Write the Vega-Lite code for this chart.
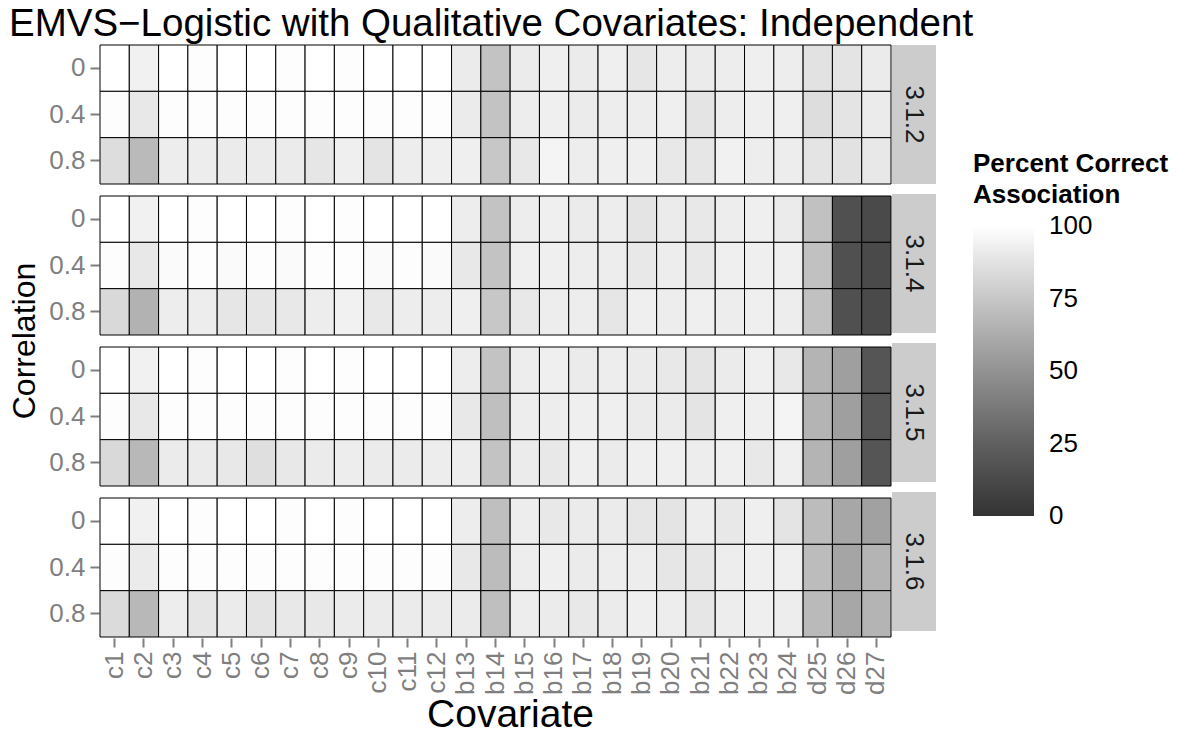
{
"$schema": "https://vega.github.io/schema/vega-lite/v6.json",
"background": "white",
"padding": {"left": 8, "top": 5, "right": 5, "bottom": 5},
"title": {"text": "EMVS−Logistic with Qualitative Covariates: Independent", "anchor": "start", "fontSize": 38.5, "font": "Liberation Sans", "fontWeight": "normal", "color": "black", "offset": 0},
"config": {"font": "Liberation Sans", "view": {"stroke": null}},
"data": {"values": [
{"p":"3.1.2","r":"0","c":"c1","v":100},{"p":"3.1.2","r":"0","c":"c2","v":94},{"p":"3.1.2","r":"0","c":"c3","v":100},{"p":"3.1.2","r":"0","c":"c4","v":99},{"p":"3.1.2","r":"0","c":"c5","v":100},{"p":"3.1.2","r":"0","c":"c6","v":100},{"p":"3.1.2","r":"0","c":"c7","v":99},{"p":"3.1.2","r":"0","c":"c8","v":100},{"p":"3.1.2","r":"0","c":"c9","v":99},{"p":"3.1.2","r":"0","c":"c10","v":100},{"p":"3.1.2","r":"0","c":"c11","v":100},{"p":"3.1.2","r":"0","c":"c12","v":100},{"p":"3.1.2","r":"0","c":"b13","v":91},{"p":"3.1.2","r":"0","c":"b14","v":73},{"p":"3.1.2","r":"0","c":"b15","v":91},{"p":"3.1.2","r":"0","c":"b16","v":93},{"p":"3.1.2","r":"0","c":"b17","v":91},{"p":"3.1.2","r":"0","c":"b18","v":93},{"p":"3.1.2","r":"0","c":"b19","v":89},{"p":"3.1.2","r":"0","c":"b20","v":92},{"p":"3.1.2","r":"0","c":"b21","v":91},{"p":"3.1.2","r":"0","c":"b22","v":92},{"p":"3.1.2","r":"0","c":"b23","v":93},{"p":"3.1.2","r":"0","c":"b24","v":92},{"p":"3.1.2","r":"0","c":"d25","v":87},{"p":"3.1.2","r":"0","c":"d26","v":88},{"p":"3.1.2","r":"0","c":"d27","v":91},
{"p":"3.1.2","r":"0.4","c":"c1","v":99},{"p":"3.1.2","r":"0.4","c":"c2","v":90},{"p":"3.1.2","r":"0.4","c":"c3","v":99},{"p":"3.1.2","r":"0.4","c":"c4","v":99},{"p":"3.1.2","r":"0.4","c":"c5","v":99},{"p":"3.1.2","r":"0.4","c":"c6","v":99},{"p":"3.1.2","r":"0.4","c":"c7","v":99},{"p":"3.1.2","r":"0.4","c":"c8","v":99},{"p":"3.1.2","r":"0.4","c":"c9","v":99},{"p":"3.1.2","r":"0.4","c":"c10","v":99},{"p":"3.1.2","r":"0.4","c":"c11","v":99},{"p":"3.1.2","r":"0.4","c":"c12","v":99},{"p":"3.1.2","r":"0.4","c":"b13","v":91},{"p":"3.1.2","r":"0.4","c":"b14","v":73},{"p":"3.1.2","r":"0.4","c":"b15","v":92},{"p":"3.1.2","r":"0.4","c":"b16","v":93},{"p":"3.1.2","r":"0.4","c":"b17","v":91},{"p":"3.1.2","r":"0.4","c":"b18","v":92},{"p":"3.1.2","r":"0.4","c":"b19","v":92},{"p":"3.1.2","r":"0.4","c":"b20","v":93},{"p":"3.1.2","r":"0.4","c":"b21","v":88},{"p":"3.1.2","r":"0.4","c":"b22","v":92},{"p":"3.1.2","r":"0.4","c":"b23","v":93},{"p":"3.1.2","r":"0.4","c":"b24","v":93},{"p":"3.1.2","r":"0.4","c":"d25","v":85},{"p":"3.1.2","r":"0.4","c":"d26","v":88},{"p":"3.1.2","r":"0.4","c":"d27","v":91},
{"p":"3.1.2","r":"0.8","c":"c1","v":85},{"p":"3.1.2","r":"0.8","c":"c2","v":69},{"p":"3.1.2","r":"0.8","c":"c3","v":92},{"p":"3.1.2","r":"0.8","c":"c4","v":92},{"p":"3.1.2","r":"0.8","c":"c5","v":91},{"p":"3.1.2","r":"0.8","c":"c6","v":91},{"p":"3.1.2","r":"0.8","c":"c7","v":91},{"p":"3.1.2","r":"0.8","c":"c8","v":89},{"p":"3.1.2","r":"0.8","c":"c9","v":93},{"p":"3.1.2","r":"0.8","c":"c10","v":88},{"p":"3.1.2","r":"0.8","c":"c11","v":92},{"p":"3.1.2","r":"0.8","c":"c12","v":93},{"p":"3.1.2","r":"0.8","c":"b13","v":93},{"p":"3.1.2","r":"0.8","c":"b14","v":75},{"p":"3.1.2","r":"0.8","c":"b15","v":90},{"p":"3.1.2","r":"0.8","c":"b16","v":95},{"p":"3.1.2","r":"0.8","c":"b17","v":92},{"p":"3.1.2","r":"0.8","c":"b18","v":93},{"p":"3.1.2","r":"0.8","c":"b19","v":93},{"p":"3.1.2","r":"0.8","c":"b20","v":90},{"p":"3.1.2","r":"0.8","c":"b21","v":89},{"p":"3.1.2","r":"0.8","c":"b22","v":94},{"p":"3.1.2","r":"0.8","c":"b23","v":92},{"p":"3.1.2","r":"0.8","c":"b24","v":92},{"p":"3.1.2","r":"0.8","c":"d25","v":88},{"p":"3.1.2","r":"0.8","c":"d26","v":87},{"p":"3.1.2","r":"0.8","c":"d27","v":90},
{"p":"3.1.4","r":"0","c":"c1","v":100},{"p":"3.1.4","r":"0","c":"c2","v":94},{"p":"3.1.4","r":"0","c":"c3","v":100},{"p":"3.1.4","r":"0","c":"c4","v":99},{"p":"3.1.4","r":"0","c":"c5","v":100},{"p":"3.1.4","r":"0","c":"c6","v":100},{"p":"3.1.4","r":"0","c":"c7","v":99},{"p":"3.1.4","r":"0","c":"c8","v":100},{"p":"3.1.4","r":"0","c":"c9","v":99},{"p":"3.1.4","r":"0","c":"c10","v":100},{"p":"3.1.4","r":"0","c":"c11","v":100},{"p":"3.1.4","r":"0","c":"c12","v":100},{"p":"3.1.4","r":"0","c":"b13","v":92},{"p":"3.1.4","r":"0","c":"b14","v":73},{"p":"3.1.4","r":"0","c":"b15","v":92},{"p":"3.1.4","r":"0","c":"b16","v":93},{"p":"3.1.4","r":"0","c":"b17","v":91},{"p":"3.1.4","r":"0","c":"b18","v":92},{"p":"3.1.4","r":"0","c":"b19","v":88},{"p":"3.1.4","r":"0","c":"b20","v":91},{"p":"3.1.4","r":"0","c":"b21","v":90},{"p":"3.1.4","r":"0","c":"b22","v":92},{"p":"3.1.4","r":"0","c":"b23","v":93},{"p":"3.1.4","r":"0","c":"b24","v":91},{"p":"3.1.4","r":"0","c":"d25","v":72},{"p":"3.1.4","r":"0","c":"d26","v":16},{"p":"3.1.4","r":"0","c":"d27","v":13},
{"p":"3.1.4","r":"0.4","c":"c1","v":99},{"p":"3.1.4","r":"0.4","c":"c2","v":90},{"p":"3.1.4","r":"0.4","c":"c3","v":98},{"p":"3.1.4","r":"0.4","c":"c4","v":99},{"p":"3.1.4","r":"0.4","c":"c5","v":98},{"p":"3.1.4","r":"0.4","c":"c6","v":99},{"p":"3.1.4","r":"0.4","c":"c7","v":98},{"p":"3.1.4","r":"0.4","c":"c8","v":99},{"p":"3.1.4","r":"0.4","c":"c9","v":99},{"p":"3.1.4","r":"0.4","c":"c10","v":98},{"p":"3.1.4","r":"0.4","c":"c11","v":99},{"p":"3.1.4","r":"0.4","c":"c12","v":98},{"p":"3.1.4","r":"0.4","c":"b13","v":90},{"p":"3.1.4","r":"0.4","c":"b14","v":73},{"p":"3.1.4","r":"0.4","c":"b15","v":93},{"p":"3.1.4","r":"0.4","c":"b16","v":93},{"p":"3.1.4","r":"0.4","c":"b17","v":92},{"p":"3.1.4","r":"0.4","c":"b18","v":92},{"p":"3.1.4","r":"0.4","c":"b19","v":90},{"p":"3.1.4","r":"0.4","c":"b20","v":92},{"p":"3.1.4","r":"0.4","c":"b21","v":90},{"p":"3.1.4","r":"0.4","c":"b22","v":93},{"p":"3.1.4","r":"0.4","c":"b23","v":93},{"p":"3.1.4","r":"0.4","c":"b24","v":93},{"p":"3.1.4","r":"0.4","c":"d25","v":72},{"p":"3.1.4","r":"0.4","c":"d26","v":16},{"p":"3.1.4","r":"0.4","c":"d27","v":13},
{"p":"3.1.4","r":"0.8","c":"c1","v":83},{"p":"3.1.4","r":"0.8","c":"c2","v":65},{"p":"3.1.4","r":"0.8","c":"c3","v":92},{"p":"3.1.4","r":"0.8","c":"c4","v":92},{"p":"3.1.4","r":"0.8","c":"c5","v":89},{"p":"3.1.4","r":"0.8","c":"c6","v":89},{"p":"3.1.4","r":"0.8","c":"c7","v":90},{"p":"3.1.4","r":"0.8","c":"c8","v":92},{"p":"3.1.4","r":"0.8","c":"c9","v":94},{"p":"3.1.4","r":"0.8","c":"c10","v":90},{"p":"3.1.4","r":"0.8","c":"c11","v":92},{"p":"3.1.4","r":"0.8","c":"c12","v":92},{"p":"3.1.4","r":"0.8","c":"b13","v":93},{"p":"3.1.4","r":"0.8","c":"b14","v":75},{"p":"3.1.4","r":"0.8","c":"b15","v":90},{"p":"3.1.4","r":"0.8","c":"b16","v":92},{"p":"3.1.4","r":"0.8","c":"b17","v":92},{"p":"3.1.4","r":"0.8","c":"b18","v":89},{"p":"3.1.4","r":"0.8","c":"b19","v":93},{"p":"3.1.4","r":"0.8","c":"b20","v":92},{"p":"3.1.4","r":"0.8","c":"b21","v":93},{"p":"3.1.4","r":"0.8","c":"b22","v":92},{"p":"3.1.4","r":"0.8","c":"b23","v":93},{"p":"3.1.4","r":"0.8","c":"b24","v":92},{"p":"3.1.4","r":"0.8","c":"d25","v":72},{"p":"3.1.4","r":"0.8","c":"d26","v":16},{"p":"3.1.4","r":"0.8","c":"d27","v":13},
{"p":"3.1.5","r":"0","c":"c1","v":100},{"p":"3.1.5","r":"0","c":"c2","v":94},{"p":"3.1.5","r":"0","c":"c3","v":100},{"p":"3.1.5","r":"0","c":"c4","v":99},{"p":"3.1.5","r":"0","c":"c5","v":100},{"p":"3.1.5","r":"0","c":"c6","v":100},{"p":"3.1.5","r":"0","c":"c7","v":99},{"p":"3.1.5","r":"0","c":"c8","v":100},{"p":"3.1.5","r":"0","c":"c9","v":99},{"p":"3.1.5","r":"0","c":"c10","v":100},{"p":"3.1.5","r":"0","c":"c11","v":100},{"p":"3.1.5","r":"0","c":"c12","v":100},{"p":"3.1.5","r":"0","c":"b13","v":92},{"p":"3.1.5","r":"0","c":"b14","v":73},{"p":"3.1.5","r":"0","c":"b15","v":92},{"p":"3.1.5","r":"0","c":"b16","v":93},{"p":"3.1.5","r":"0","c":"b17","v":91},{"p":"3.1.5","r":"0","c":"b18","v":92},{"p":"3.1.5","r":"0","c":"b19","v":91},{"p":"3.1.5","r":"0","c":"b20","v":90},{"p":"3.1.5","r":"0","c":"b21","v":88},{"p":"3.1.5","r":"0","c":"b22","v":91},{"p":"3.1.5","r":"0","c":"b23","v":93},{"p":"3.1.5","r":"0","c":"b24","v":90},{"p":"3.1.5","r":"0","c":"d25","v":66},{"p":"3.1.5","r":"0","c":"d26","v":56},{"p":"3.1.5","r":"0","c":"d27","v":19},
{"p":"3.1.5","r":"0.4","c":"c1","v":99},{"p":"3.1.5","r":"0.4","c":"c2","v":90},{"p":"3.1.5","r":"0.4","c":"c3","v":99},{"p":"3.1.5","r":"0.4","c":"c4","v":99},{"p":"3.1.5","r":"0.4","c":"c5","v":99},{"p":"3.1.5","r":"0.4","c":"c6","v":99},{"p":"3.1.5","r":"0.4","c":"c7","v":99},{"p":"3.1.5","r":"0.4","c":"c8","v":99},{"p":"3.1.5","r":"0.4","c":"c9","v":99},{"p":"3.1.5","r":"0.4","c":"c10","v":99},{"p":"3.1.5","r":"0.4","c":"c11","v":99},{"p":"3.1.5","r":"0.4","c":"c12","v":99},{"p":"3.1.5","r":"0.4","c":"b13","v":90},{"p":"3.1.5","r":"0.4","c":"b14","v":71},{"p":"3.1.5","r":"0.4","c":"b15","v":92},{"p":"3.1.5","r":"0.4","c":"b16","v":92},{"p":"3.1.5","r":"0.4","c":"b17","v":93},{"p":"3.1.5","r":"0.4","c":"b18","v":93},{"p":"3.1.5","r":"0.4","c":"b19","v":91},{"p":"3.1.5","r":"0.4","c":"b20","v":91},{"p":"3.1.5","r":"0.4","c":"b21","v":88},{"p":"3.1.5","r":"0.4","c":"b22","v":93},{"p":"3.1.5","r":"0.4","c":"b23","v":93},{"p":"3.1.5","r":"0.4","c":"b24","v":95},{"p":"3.1.5","r":"0.4","c":"d25","v":66},{"p":"3.1.5","r":"0.4","c":"d26","v":56},{"p":"3.1.5","r":"0.4","c":"d27","v":19},
{"p":"3.1.5","r":"0.8","c":"c1","v":83},{"p":"3.1.5","r":"0.8","c":"c2","v":68},{"p":"3.1.5","r":"0.8","c":"c3","v":91},{"p":"3.1.5","r":"0.8","c":"c4","v":91},{"p":"3.1.5","r":"0.8","c":"c5","v":90},{"p":"3.1.5","r":"0.8","c":"c6","v":86},{"p":"3.1.5","r":"0.8","c":"c7","v":90},{"p":"3.1.5","r":"0.8","c":"c8","v":91},{"p":"3.1.5","r":"0.8","c":"c9","v":92},{"p":"3.1.5","r":"0.8","c":"c10","v":91},{"p":"3.1.5","r":"0.8","c":"c11","v":91},{"p":"3.1.5","r":"0.8","c":"c12","v":92},{"p":"3.1.5","r":"0.8","c":"b13","v":92},{"p":"3.1.5","r":"0.8","c":"b14","v":73},{"p":"3.1.5","r":"0.8","c":"b15","v":91},{"p":"3.1.5","r":"0.8","c":"b16","v":90},{"p":"3.1.5","r":"0.8","c":"b17","v":93},{"p":"3.1.5","r":"0.8","c":"b18","v":91},{"p":"3.1.5","r":"0.8","c":"b19","v":93},{"p":"3.1.5","r":"0.8","c":"b20","v":93},{"p":"3.1.5","r":"0.8","c":"b21","v":92},{"p":"3.1.5","r":"0.8","c":"b22","v":93},{"p":"3.1.5","r":"0.8","c":"b23","v":90},{"p":"3.1.5","r":"0.8","c":"b24","v":93},{"p":"3.1.5","r":"0.8","c":"d25","v":66},{"p":"3.1.5","r":"0.8","c":"d26","v":56},{"p":"3.1.5","r":"0.8","c":"d27","v":19},
{"p":"3.1.6","r":"0","c":"c1","v":100},{"p":"3.1.6","r":"0","c":"c2","v":94},{"p":"3.1.6","r":"0","c":"c3","v":100},{"p":"3.1.6","r":"0","c":"c4","v":99},{"p":"3.1.6","r":"0","c":"c5","v":100},{"p":"3.1.6","r":"0","c":"c6","v":100},{"p":"3.1.6","r":"0","c":"c7","v":99},{"p":"3.1.6","r":"0","c":"c8","v":100},{"p":"3.1.6","r":"0","c":"c9","v":99},{"p":"3.1.6","r":"0","c":"c10","v":100},{"p":"3.1.6","r":"0","c":"c11","v":100},{"p":"3.1.6","r":"0","c":"c12","v":100},{"p":"3.1.6","r":"0","c":"b13","v":92},{"p":"3.1.6","r":"0","c":"b14","v":71},{"p":"3.1.6","r":"0","c":"b15","v":92},{"p":"3.1.6","r":"0","c":"b16","v":90},{"p":"3.1.6","r":"0","c":"b17","v":91},{"p":"3.1.6","r":"0","c":"b18","v":91},{"p":"3.1.6","r":"0","c":"b19","v":89},{"p":"3.1.6","r":"0","c":"b20","v":88},{"p":"3.1.6","r":"0","c":"b21","v":92},{"p":"3.1.6","r":"0","c":"b22","v":90},{"p":"3.1.6","r":"0","c":"b23","v":93},{"p":"3.1.6","r":"0","c":"b24","v":88},{"p":"3.1.6","r":"0","c":"d25","v":70},{"p":"3.1.6","r":"0","c":"d26","v":60},{"p":"3.1.6","r":"0","c":"d27","v":57},
{"p":"3.1.6","r":"0.4","c":"c1","v":99},{"p":"3.1.6","r":"0.4","c":"c2","v":91},{"p":"3.1.6","r":"0.4","c":"c3","v":99},{"p":"3.1.6","r":"0.4","c":"c4","v":99},{"p":"3.1.6","r":"0.4","c":"c5","v":99},{"p":"3.1.6","r":"0.4","c":"c6","v":99},{"p":"3.1.6","r":"0.4","c":"c7","v":99},{"p":"3.1.6","r":"0.4","c":"c8","v":99},{"p":"3.1.6","r":"0.4","c":"c9","v":99},{"p":"3.1.6","r":"0.4","c":"c10","v":99},{"p":"3.1.6","r":"0.4","c":"c11","v":99},{"p":"3.1.6","r":"0.4","c":"c12","v":99},{"p":"3.1.6","r":"0.4","c":"b13","v":90},{"p":"3.1.6","r":"0.4","c":"b14","v":70},{"p":"3.1.6","r":"0.4","c":"b15","v":92},{"p":"3.1.6","r":"0.4","c":"b16","v":93},{"p":"3.1.6","r":"0.4","c":"b17","v":91},{"p":"3.1.6","r":"0.4","c":"b18","v":92},{"p":"3.1.6","r":"0.4","c":"b19","v":92},{"p":"3.1.6","r":"0.4","c":"b20","v":89},{"p":"3.1.6","r":"0.4","c":"b21","v":89},{"p":"3.1.6","r":"0.4","c":"b22","v":92},{"p":"3.1.6","r":"0.4","c":"b23","v":93},{"p":"3.1.6","r":"0.4","c":"b24","v":93},{"p":"3.1.6","r":"0.4","c":"d25","v":70},{"p":"3.1.6","r":"0.4","c":"d26","v":59},{"p":"3.1.6","r":"0.4","c":"d27","v":66},
{"p":"3.1.6","r":"0.8","c":"c1","v":84},{"p":"3.1.6","r":"0.8","c":"c2","v":68},{"p":"3.1.6","r":"0.8","c":"c3","v":92},{"p":"3.1.6","r":"0.8","c":"c4","v":89},{"p":"3.1.6","r":"0.8","c":"c5","v":91},{"p":"3.1.6","r":"0.8","c":"c6","v":88},{"p":"3.1.6","r":"0.8","c":"c7","v":90},{"p":"3.1.6","r":"0.8","c":"c8","v":90},{"p":"3.1.6","r":"0.8","c":"c9","v":91},{"p":"3.1.6","r":"0.8","c":"c10","v":91},{"p":"3.1.6","r":"0.8","c":"c11","v":91},{"p":"3.1.6","r":"0.8","c":"c12","v":91},{"p":"3.1.6","r":"0.8","c":"b13","v":91},{"p":"3.1.6","r":"0.8","c":"b14","v":71},{"p":"3.1.6","r":"0.8","c":"b15","v":92},{"p":"3.1.6","r":"0.8","c":"b16","v":91},{"p":"3.1.6","r":"0.8","c":"b17","v":90},{"p":"3.1.6","r":"0.8","c":"b18","v":91},{"p":"3.1.6","r":"0.8","c":"b19","v":93},{"p":"3.1.6","r":"0.8","c":"b20","v":92},{"p":"3.1.6","r":"0.8","c":"b21","v":89},{"p":"3.1.6","r":"0.8","c":"b22","v":92},{"p":"3.1.6","r":"0.8","c":"b23","v":93},{"p":"3.1.6","r":"0.8","c":"b24","v":92},{"p":"3.1.6","r":"0.8","c":"d25","v":69},{"p":"3.1.6","r":"0.8","c":"d26","v":60},{"p":"3.1.6","r":"0.8","c":"d27","v":66}
]},
"spacing": 0,
"hconcat": [
 {
  "facet": {"row": {"field": "p", "type": "nominal", "header": {"labels": false, "title": "Correlation", "titleFontSize": 32, "titleFontWeight": "normal", "titleColor": "black", "titleOrient": "left", "titleAngle": -90, "titlePadding": -36}}},
  "spacing": 10,
  "spec": {
   "width": 791,
   "height": 139,
   "mark": {"type": "rect", "stroke": "black", "strokeWidth": 1},
   "encoding": {
    "x": {"field": "c", "type": "nominal", "title": "Covariate",
      "sort": ["c1","c2","c3","c4","c5","c6","c7","c8","c9","c10","c11","c12","b13","b14","b15","b16","b17","b18","b19","b20","b21","b22","b23","b24","d25","d26","d27"],
      "scale": {"paddingInner": 0, "paddingOuter": 0},
      "axis": {"labelAngle": 270, "labelFontSize": 26, "labelColor": "#7f7f7f", "tickColor": "#7f7f7f", "tickSize": 9, "tickWidth": 2, "domain": false, "labelPadding": 4, "titleFontSize": 39, "titleFontWeight": "normal", "titleColor": "black", "titlePadding": 1, "titleX": 410, "grid": false}},
    "y": {"field": "r", "type": "nominal", "title": null, "sort": ["0","0.4","0.8"],
      "scale": {"paddingInner": 0, "paddingOuter": 0},
      "axis": {"labelFontSize": 26, "labelColor": "#7f7f7f", "tickColor": "#7f7f7f", "tickSize": 9, "tickWidth": 2, "domain": false, "labelPadding": 5, "grid": false}},
    "fill": {"field": "v", "type": "quantitative",
      "scale": {"domain": [0, 100], "range": ["#333333", "#ffffff"], "interpolate": "lab"},
      "legend": {"orient": "none", "legendX": 873, "legendY": 106, "direction": "vertical", "title": ["Percent Correct", "\u00a0Association"], "titleFontSize": 26, "titleFontWeight": "bold", "titleColor": "black", "titleLimit": 400, "titleLineHeight": 31, "titlePadding": 18, "labelFontSize": 26, "labelColor": "black", "gradientLength": 290, "gradientThickness": 61, "gradientStrokeWidth": 0, "values": [0, 25, 50, 75, 100], "labelOffset": 15,
        "encode": {"labels": {"update": {"baseline": {"value": "middle"}}}}}}
   }
  }
 },
 {
  "transform": [{"aggregate": [{"op": "count", "as": "n"}], "groupby": ["p"]}],
  "facet": {"row": {"field": "p", "type": "nominal", "header": {"labels": false, "title": null}}},
  "spacing": 10,
  "spec": {
   "width": 44,
   "height": 139,
   "view": {"fill": "#cccccc", "stroke": null},
   "mark": {"type": "text", "angle": 90, "fontSize": 26, "color": "#1a1a1a"},
   "encoding": {"text": {"field": "p", "type": "nominal"}}
  }
 }
]
}
